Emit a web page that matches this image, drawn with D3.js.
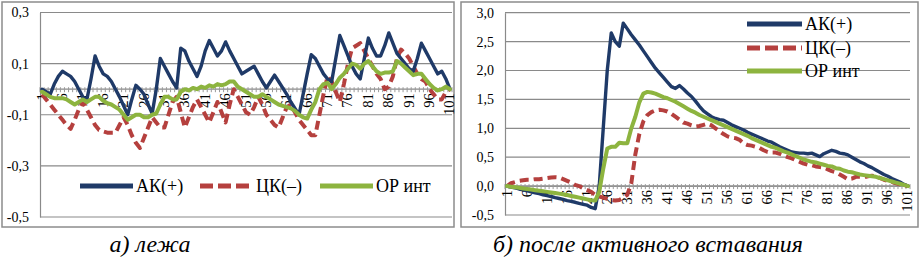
<!DOCTYPE html>
<html><head><meta charset="utf-8">
<script src="https://cdn.jsdelivr.net/npm/d3@7"></script>
<style>
body{margin:0;background:#fff;}
svg{display:block;}
text{font-family:"Liberation Serif","DejaVu Serif",serif;}
</style></head>
<body>
<svg id="c" width="921" height="257"></svg>
<script>
const categories = Array.from({length:101},(_,i)=>i+1);
const xTickLabels = [1,6,11,16,21,26,31,36,41,46,51,56,61,66,71,76,81,86,91,96,101];
const seriesNames = ["АК(+)","ЦК(–)","ОР инт"];
const captions = ["а) лежа","б) после активного вставания"];
const leftYTicks = [0.3,0.1,-0.1,-0.3,-0.5];
const rightYTicks = [3.0,2.5,2.0,1.5,1.0,0.5,0.0,-0.5];

// а) лежа
const leftAK = [0.0,-0.01,-0.02,0.02,0.05,0.07,0.06,0.05,0.03,0.0,-0.03,-0.04,0.04,0.13,0.09,0.06,0.05,0.03,0.0,-0.03,
 -0.065,-0.1,-0.04,0.015,0.0,-0.02,-0.06,-0.095,0.0,0.12,0.09,0.06,0.03,0.005,0.16,0.15,0.11,0.08,0.05,0.09,
 0.15,0.19,0.16,0.13,0.15,0.185,0.15,0.12,0.09,0.06,0.07,0.08,0.09,0.06,0.03,0.005,0.03,0.055,0.03,0.005,
 -0.02,-0.05,-0.075,-0.1,-0.02,0.06,0.135,0.12,0.09,0.06,0.04,0.03,0.12,0.21,0.17,0.13,0.09,0.06,0.04,0.12,
 0.2,0.16,0.13,0.13,0.17,0.22,0.18,0.14,0.12,0.1,0.08,0.07,0.12,0.18,0.15,0.12,0.09,0.06,0.07,0.04,0.0];
const leftCK = [-0.02,-0.04,-0.06,-0.08,-0.1,-0.12,-0.14,-0.155,-0.12,-0.08,-0.05,-0.08,-0.11,-0.14,-0.16,-0.165,-0.17,-0.17,-0.17,-0.14,
 -0.11,-0.14,-0.18,-0.21,-0.23,-0.19,-0.15,-0.11,-0.13,-0.15,-0.15,-0.1,-0.05,-0.03,-0.09,-0.15,-0.11,-0.07,-0.04,-0.07,
 -0.1,-0.13,-0.09,-0.05,-0.09,-0.13,-0.06,0.0,-0.03,-0.06,-0.09,-0.1,-0.07,-0.03,-0.06,-0.1,-0.12,-0.14,-0.15,-0.11,
 -0.07,-0.06,-0.09,-0.12,-0.14,-0.16,-0.18,-0.18,-0.1,-0.02,0.05,0.03,-0.01,-0.05,0.02,0.1,0.16,0.17,0.18,0.15,
 0.12,0.09,0.06,0.04,0.0,0.01,0.05,0.12,0.155,0.14,0.12,0.09,0.06,0.04,0.03,0.0,-0.02,-0.04,-0.04,-0.01,0.0];
const leftOR = [-0.01,-0.02,-0.03,-0.035,-0.035,-0.035,-0.04,-0.05,-0.06,-0.05,-0.04,-0.05,-0.04,-0.03,-0.03,-0.045,-0.055,-0.06,-0.07,-0.08,
 -0.1,-0.12,-0.11,-0.1,-0.1,-0.11,-0.11,-0.1,-0.095,-0.06,-0.03,-0.03,-0.04,-0.04,-0.01,0.0,-0.005,0.005,0.0,0.01,
 0.005,0.015,0.01,0.02,0.015,0.02,0.03,0.03,0.01,0.0,-0.01,-0.02,-0.03,-0.03,-0.02,-0.03,-0.04,-0.05,-0.06,-0.065,
 -0.07,-0.075,-0.085,-0.1,-0.11,-0.115,-0.08,-0.05,0.0,0.02,0.025,0.0,0.02,0.045,0.06,0.08,0.1,0.095,0.08,0.1,
 0.11,0.09,0.07,0.06,0.065,0.065,0.07,0.11,0.1,0.085,0.07,0.055,0.06,0.06,0.04,0.02,0.005,-0.005,0.0,0.01,0.0];

// б) после активного вставания
const rightAK = [0.0,-0.015,-0.03,-0.05,-0.065,-0.08,-0.1,-0.115,-0.13,-0.15,-0.165,-0.18,-0.2,-0.215,-0.23,-0.25,-0.265,-0.28,-0.3,-0.315,
 -0.33,-0.37,-0.39,0.0,1.0,2.0,2.65,2.5,2.42,2.82,2.72,2.62,2.53,2.44,2.34,2.24,2.14,2.04,1.96,1.88,
 1.8,1.72,1.69,1.74,1.68,1.61,1.55,1.47,1.38,1.3,1.25,1.2,1.17,1.15,1.14,1.1,1.06,1.03,1.0,0.97,
 0.93,0.9,0.87,0.84,0.81,0.78,0.76,0.72,0.68,0.65,0.62,0.59,0.58,0.57,0.57,0.56,0.57,0.54,0.51,0.56,
 0.59,0.62,0.6,0.57,0.56,0.54,0.5,0.46,0.42,0.39,0.35,0.32,0.28,0.24,0.2,0.17,0.13,0.1,0.07,0.03,0.0];
const rightCK = [0.0,0.05,0.07,0.09,0.1,0.11,0.11,0.12,0.12,0.13,0.14,0.15,0.155,0.15,0.12,0.09,0.06,0.02,0.0,-0.04,
 -0.07,-0.1,-0.15,-0.18,-0.2,-0.22,-0.24,-0.25,-0.24,-0.2,-0.15,0.05,0.55,0.9,1.12,1.23,1.28,1.31,1.32,1.31,
 1.29,1.25,1.2,1.15,1.1,1.08,1.05,1.03,1.04,1.06,1.08,1.05,1.0,0.95,0.9,0.86,0.84,0.83,0.8,0.74,
 0.71,0.7,0.68,0.66,0.62,0.59,0.58,0.58,0.56,0.53,0.5,0.48,0.45,0.42,0.39,0.37,0.36,0.34,0.33,0.32,
 0.29,0.26,0.24,0.2,0.16,0.12,0.13,0.16,0.16,0.15,0.17,0.18,0.17,0.14,0.11,0.09,0.07,0.05,0.03,0.015,0.0];
const rightOR = [0.0,-0.01,-0.02,-0.03,-0.04,-0.05,-0.06,-0.07,-0.08,-0.09,-0.1,-0.11,-0.12,-0.13,-0.14,-0.155,-0.17,-0.185,-0.2,-0.215,
 -0.23,-0.245,-0.25,-0.1,0.3,0.65,0.68,0.68,0.75,0.74,0.74,1.0,1.2,1.45,1.6,1.63,1.62,1.6,1.57,1.54,
 1.52,1.49,1.46,1.42,1.38,1.34,1.3,1.27,1.23,1.2,1.17,1.14,1.11,1.08,1.05,1.02,0.99,0.96,0.93,0.9,
 0.87,0.83,0.8,0.77,0.74,0.71,0.68,0.66,0.63,0.6,0.58,0.55,0.52,0.49,0.46,0.44,0.42,0.41,0.39,0.37,
 0.35,0.34,0.31,0.3,0.27,0.25,0.24,0.22,0.2,0.19,0.18,0.17,0.16,0.14,0.12,0.1,0.08,0.06,0.04,0.02,0.0];

const colors = ["#1F3A68","#B5403E","#8DB43F"];
const svg = d3.select("#c");
const fmt = v => d3.format(".1f")(v).replace(".",",").replace("−","-");

function panel(opt){
  const g = svg.append("g");
  g.append("rect").attr("x",opt.frame[0]).attr("y",opt.frame[1]).attr("width",opt.frame[2]).attr("height",opt.frame[3])
    .attr("fill","#fff").attr("stroke","#8c8c8c").attr("stroke-width",1.5);
  const x = d3.scaleBand().domain(categories).range(opt.xr).paddingInner(0).paddingOuter(0);
  const y = d3.scaleLinear().domain(opt.yd).range(opt.yr);
  const cx = c => x(c) + x.bandwidth()/2;
  g.append("g").selectAll("line").data(opt.yTicks).join("line")
    .attr("x1",opt.xr[0]).attr("x2",opt.xr[1]).attr("y1",d=>y(d)).attr("y2",d=>y(d))
    .attr("stroke","#8a8a8a").attr("stroke-width",1.2);
  const ya = g.append("g").attr("transform",`translate(${opt.xr[0]},0)`)
    .call(d3.axisLeft(y).tickValues(opt.yTicks).tickFormat(fmt).tickSize(0).tickPadding(11));
  ya.select(".domain").attr("stroke","#8a8a8a").attr("stroke-width",1.2);
  ya.selectAll("text").attr("font-size",14).attr("font-family","Liberation Serif").attr("fill","#000");
  const y0 = y(0);
  g.append("line").attr("x1",opt.xr[0]).attr("x2",opt.xr[1]).attr("y1",y0).attr("y2",y0)
    .attr("stroke","#8a8a8a").attr("stroke-width",1.2);
  const bounds = categories.map(c=>x(c)).concat([opt.xr[1]]);
  g.append("g").selectAll("line").data(bounds).join("line")
    .attr("x1",d=>d).attr("x2",d=>d).attr("y1",y0-2).attr("y2",y0+3)
    .attr("stroke","#9a9a9a").attr("stroke-width",1);
  g.append("g").selectAll("text").data(xTickLabels).join("text")
    .attr("transform",d=>`translate(${cx(d)+4.5},${y0+4}) rotate(-90)`)
    .attr("text-anchor","end").attr("font-size",14.5).attr("fill","#000").text(d=>d);
  const line = d3.line().x((d,i)=>cx(categories[i])).y(d=>y(d));
  const data = opt.series;
  const order = [1,0,2];
  order.forEach(k=>{
    g.append("path").datum(data[k]).attr("d",line).attr("fill","none")
      .attr("stroke",colors[k]).attr("stroke-width",k===1?4:(k===2?4:3.4))
      .attr("stroke-dasharray",k===1?"9,5":null)
      .attr("stroke-linejoin","round").attr("stroke-linecap",k===1?"butt":"round");
  });
  const lg = g.append("g");
  opt.legend.forEach((p,k)=>{
    lg.append("line").attr("x1",p[0]).attr("x2",p[0]+opt.legLen).attr("y1",p[1]).attr("y2",p[1])
      .attr("stroke",colors[k]).attr("stroke-width",5)
      .attr("stroke-dasharray",k===1?"13,5":null);
    lg.append("text").attr("x",p[0]+opt.legLen+3).attr("y",p[1]+6).attr("font-size",18)
      .attr("fill","#000").text(seriesNames[k]);
  });
  svg.append("text").attr("x",opt.cap[0]).attr("y",opt.cap[1]).attr("text-anchor","middle")
    .attr("font-size",24).attr("font-style","italic").attr("fill","#000").text(opt.capText);
}

panel({frame:[2,2,452,225], xr:[40,452], yd:[-0.5,0.3], yr:[217,12.5], yTicks:leftYTicks,
  series:[leftAK,leftCK,leftOR], legend:[[80,186],[200,186],[320,186]], legLen:53,
  cap:[150,252], capText:captions[0]});
panel({frame:[461,2,457,225], xr:[505,910], yd:[-0.5,3.0], yr:[215,12.7], yTicks:rightYTicks,
  series:[rightAK,rightCK,rightOR], legend:[[747,24],[747,48],[747,71]], legLen:55,
  cap:[648,252], capText:captions[1]});
</script>
</body></html>
